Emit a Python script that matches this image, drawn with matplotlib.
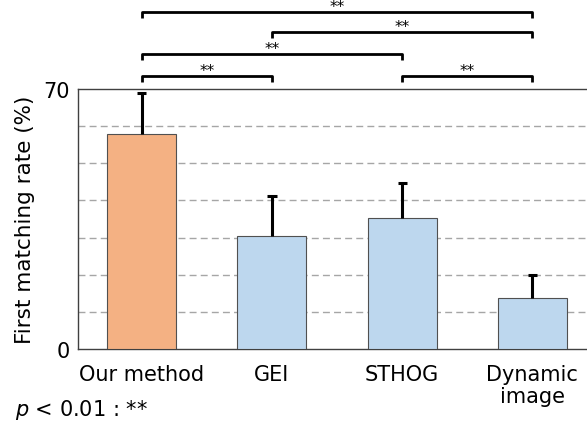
import matplotlib
matplotlib.use("Agg")
import matplotlib.pyplot as plt

# data
methods = ["Our method", "GEI", "STHOG", "Dynamic\nimage"]
rates = [57.8, 30.5, 35.2, 13.8]
errors = [11.1, 10.6, 9.6, 6.1]
colors = ["#F4B183", "#BDD7EE", "#BDD7EE", "#BDD7EE"]

# significance pairs (index a, index b) and bracket level (data units)
pairs = [(0, 1), (2, 3), (0, 2), (1, 3), (0, 3)]
levels = [73.4, 73.4, 79.4, 85.3, 90.7]

fig = plt.figure(figsize=(5.87, 4.31), dpi=100)
ax = fig.add_axes([78 / 587, 1 - 350 / 431, (600 - 78) / 587, 260 / 431])

x = list(range(len(methods)))
ax.bar(x, rates, width=0.53, color=colors, edgecolor="#505050", linewidth=0.8, zorder=3)

# upper-only error bars with a small cap
tops = [r + e for r, e in zip(rates, errors)]
ax.vlines(x, rates, tops, color="black", linewidth=2.2, zorder=4)
ax.hlines(tops, [i - 0.035 for i in x], [i + 0.035 for i in x], color="black",
          linewidth=2.2, zorder=4)

ax.set_xlim(-0.49, 3.52)
ax.set_ylim(0, 70)
for g in range(10, 70, 10):
    ax.axhline(g, color="#A6A6A6", linestyle=(0, (5, 3)), linewidth=1.0, zorder=1)

ax.set_yticks([0, 70])
ax.set_yticklabels(["0", "70"], fontsize=15)
ax.set_xticks(x)
ax.set_xticklabels(methods, fontsize=15, linespacing=1.1)
ax.tick_params(axis="x", length=0, pad=11)
ax.tick_params(axis="y", length=0, pad=6)
ax.set_ylabel("First matching rate (%)", fontsize=15.5, labelpad=6)

for s in ["left", "top", "bottom"]:
    ax.spines[s].set_color("#404040")
    ax.spines[s].set_linewidth(1.0)
ax.spines["right"].set_visible(False)

# significance brackets
tick = 1.5
for (a, b), h in zip(pairs, levels):
    ax.plot([a, a, b, b], [h - tick, h, h, h - tick], color="black", linewidth=2.0,
            clip_on=False, solid_capstyle="butt")
    ax.text((a + b) / 2, h + 1.6, "**", ha="center", va="center", fontsize=11)

fig.text(15 / 587, 1 - 410 / 431, r"$p$ < 0.01 : **", fontsize=15, va="center")

fig.savefig("out.png", dpi=100)
